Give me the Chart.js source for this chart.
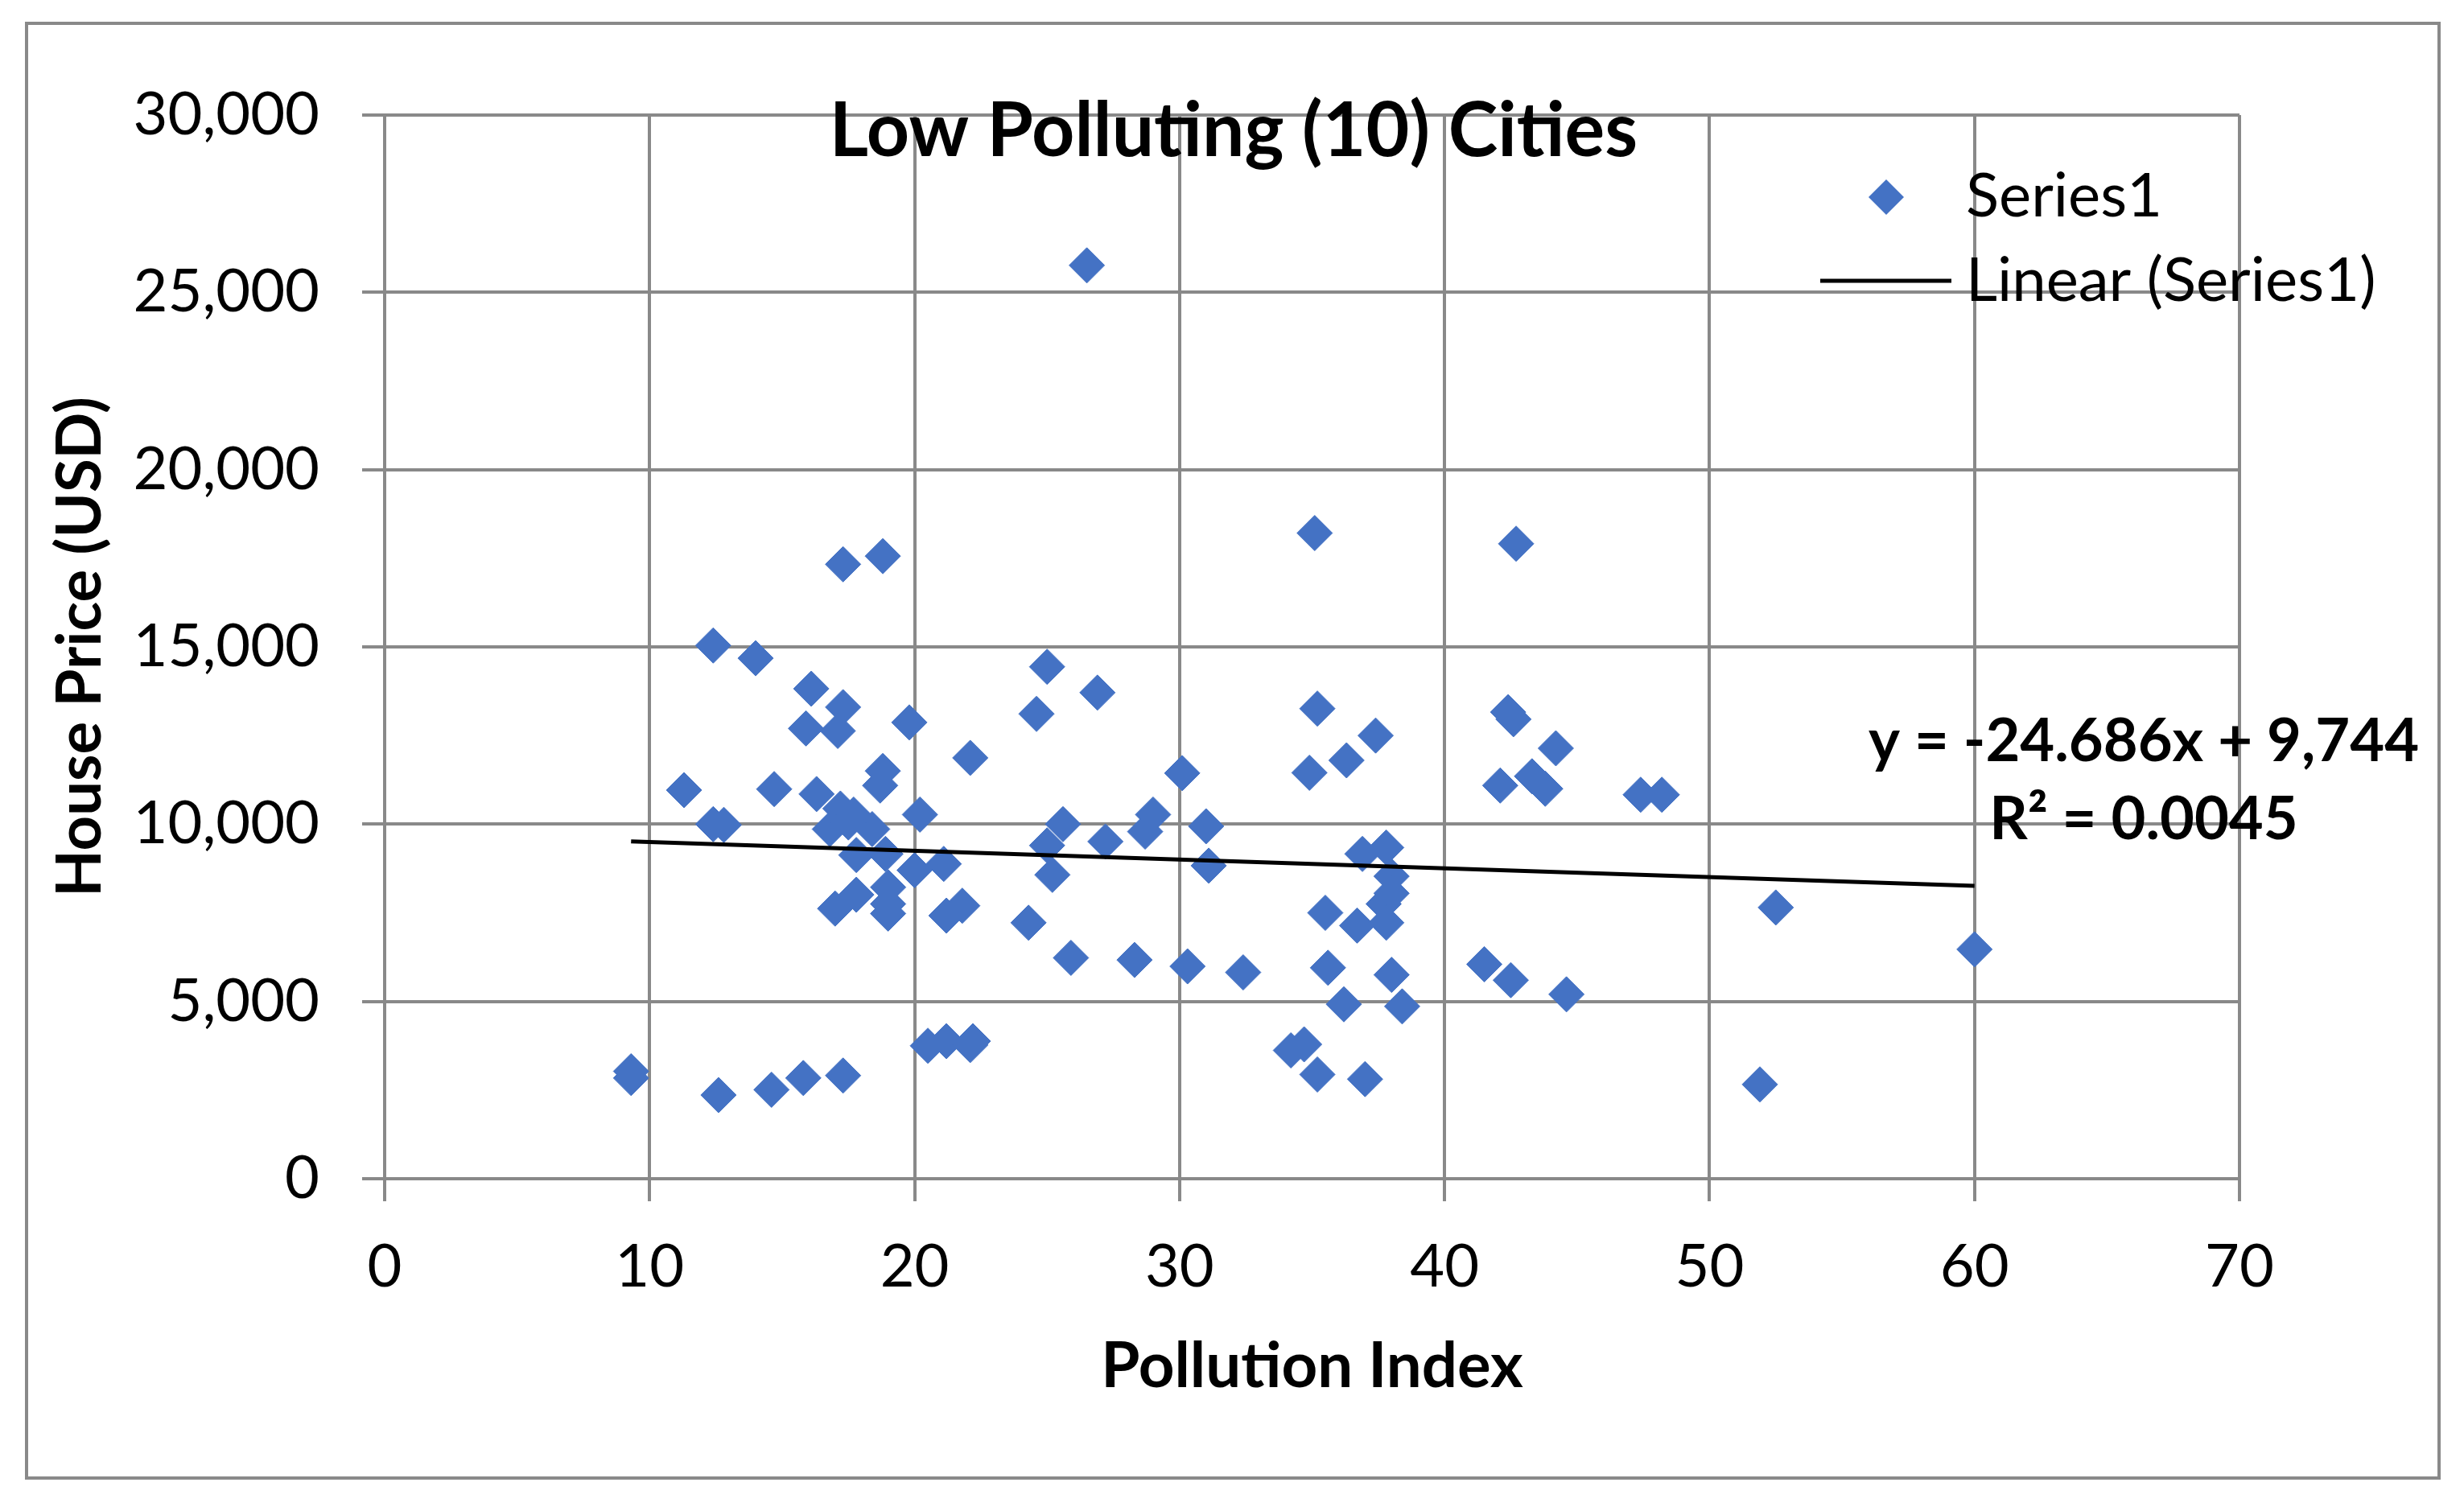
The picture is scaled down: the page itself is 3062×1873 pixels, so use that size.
<!DOCTYPE html>
<html>
<head>
<meta charset="utf-8">
<title>Low Polluting (10) Cities</title>
<script src="https://cdn.jsdelivr.net/npm/chart.js@4.4.1/dist/chart.umd.min.js"></script>
<style>
  html, body { margin: 0; padding: 0; background: #ffffff; }
</style>
</head>
<body>
<canvas id="chart" width="3062" height="1873"></canvas>
<script>
// Pollution index (x) and house price in USD (y), one entry per city
const pollutionIndex = [
  9.3, 9.3, 11.3, 12.4, 12.4, 12.8, 12.6, 14.0, 14.7, 14.6,
  16.1, 15.9, 16.3, 15.8, 17.3, 17.1, 17.3, 18.8, 17.2, 17.7,
  18.4, 16.8, 17.5, 17.8, 18.9, 20.0, 21.1, 19.0, 17.8, 17.0,
  19.0, 19.0, 21.2, 21.8, 17.3, 18.8, 18.7, 19.8, 20.2, 22.1,
  20.5, 21.2, 22.1, 22.2, 24.3, 24.6, 25.0, 25.0, 25.6, 25.2,
  25.9, 26.5, 26.9, 27.2, 28.3, 28.7, 29.0, 30.1, 30.3, 31.0,
  31.1, 32.4, 34.2, 34.7, 34.9, 35.1, 35.2, 35.2, 35.5, 35.6,
  36.3, 36.2, 36.7, 36.9, 37.0, 37.4, 37.8, 38.0, 38.0, 37.7,
  37.8, 38.0, 38.4, 41.5, 42.1, 42.4, 42.6, 42.5, 42.7, 43.3,
  43.8, 44.2, 44.6, 47.4, 48.2, 51.9, 52.5, 60.0
];
const housePrice = [
  3030, 2840, 10960, 15040, 10000, 9980, 2360, 14680, 10990, 2510,
  13820, 12700, 10850, 2840, 13300, 12630, 17330, 17560, 10440, 10270,
  9860, 9860, 10050, 9130, 9160, 8700, 8880, 8220, 8010, 7620,
  7750, 7480, 7420, 7700, 2910, 11500, 11090, 12870, 10270, 11870,
  3750, 3880, 3770, 3880, 7220, 13110, 14440, 9400, 10000, 8570,
  6230, 25760, 13710, 9510, 6170, 9790, 10270, 11440, 5990, 9940,
  8830, 5820, 3620, 3790, 11450, 18210, 13260, 2940, 7500, 5950,
  11800, 4920, 7140, 9160, 2810, 12500, 9340, 8530, 8050, 7750,
  7220, 5750, 4860, 6050, 11090, 13160, 12960, 5600, 17910, 11350,
  11000, 12140, 5200, 10830, 10830, 2660, 7650, 6470
];

// trendline as printed on the chart
const slope = -24.686;
const intercept = 9744;
const equationLines = ['y = -24.686x + 9,744', 'R\u00b2 = 0.0045'];

const chartTitle = 'Low Polluting (10) Cities';
const xTitle = 'Pollution Index';
const yTitle = 'House Price (USD)';
const legendLabels = ['Series1', 'Linear (Series1)'];

const blue = '#4472C4';
const gridColor = '#898989';
const fontFamily = 'Lato, "Open Sans", sans-serif';

const points = pollutionIndex.map((x, i) => ({ x: x, y: housePrice[i] }));
const xMin = Math.min(...pollutionIndex);
const xMax = Math.max(...pollutionIndex);
const trend = [
  { x: xMin, y: slope * xMin + intercept },
  { x: xMax, y: slope * xMax + intercept }
];

// white page, outer frame, title, legend and equation text
const decorations = {
  id: 'decorations',
  beforeDraw(chart) {
    const ctx = chart.ctx;
    ctx.save();
    ctx.fillStyle = '#ffffff';
    ctx.fillRect(0, 0, chart.width, chart.height);
    ctx.strokeStyle = gridColor;
    ctx.lineWidth = 4;
    ctx.strokeRect(33, 29, 2998, 1808);
    ctx.restore();
  },
  afterDraw(chart) {
    const ctx = chart.ctx;
    ctx.save();
    ctx.fillStyle = '#000000';
    ctx.textBaseline = 'middle';

    // title
    ctx.font = 'bold 93px ' + fontFamily;
    ctx.textAlign = 'center';
    ctx.fillText(chartTitle, 1533, 164);

    // legend
    ctx.fillStyle = blue;
    ctx.beginPath();
    ctx.moveTo(2344 - 22, 245);
    ctx.lineTo(2344, 245 - 22);
    ctx.lineTo(2344 + 22, 245);
    ctx.lineTo(2344, 245 + 22);
    ctx.closePath();
    ctx.fill();

    ctx.strokeStyle = '#000000';
    ctx.lineWidth = 5;
    ctx.beginPath();
    ctx.moveTo(2262, 349);
    ctx.lineTo(2425, 349);
    ctx.stroke();

    ctx.fillStyle = '#000000';
    ctx.font = '76px ' + fontFamily;
    ctx.textAlign = 'left';
    ctx.fillText(legendLabels[0], 2443, 244);
    ctx.fillText(legendLabels[1], 2443, 349);

    // trendline equation
    ctx.font = 'bold 74px ' + fontFamily;
    ctx.textAlign = 'center';
    ctx.fillText(equationLines[0], 2664, 922);
    ctx.fillText(equationLines[1], 2664, 1019);
    ctx.restore();
  }
};

Chart.defaults.font.family = fontFamily;
Chart.defaults.color = '#000000';

new Chart(document.getElementById('chart'), {
  type: 'scatter',
  data: {
    datasets: [
      {
        label: legendLabels[1],
        type: 'line',
        data: trend,
        borderColor: '#000000',
        borderWidth: 5,
        pointRadius: 0,
        fill: false,
        order: 0
      },
      {
        label: legendLabels[0],
        data: points,
        pointStyle: 'rectRot',
        pointRadius: 22,
        pointBackgroundColor: blue,
        pointBorderColor: blue,
        pointBorderWidth: 1,
        order: 1
      }
    ]
  },
  options: {
    responsive: false,
    animation: false,
    layout: { padding: { left: 0, top: 143, right: 279, bottom: 0 } },
    plugins: {
      legend: { display: false },
      tooltip: { enabled: false },
      title: { display: false }
    },
    scales: {
      x: {
        type: 'linear',
        min: 0,
        max: 70,
        afterFit(scale) { scale.height = 408; },
        ticks: {
          stepSize: 10,
          padding: 38,
          font: { size: 74 },
          color: '#000000'
        },
        grid: {
          color: gridColor,
          lineWidth: 4,
          tickLength: 28,
          tickColor: gridColor,
          tickWidth: 4
        },
        border: { display: true, color: gridColor, width: 4 },
        title: {
          display: true,
          text: xTitle,
          font: { size: 78, weight: 'bold' },
          color: '#000000',
          padding: { top: 0, bottom: 127 }
        }
      },
      y: {
        type: 'linear',
        min: 0,
        max: 30000,
        afterFit(scale) { scale.width = 478; },
        ticks: {
          stepSize: 5000,
          padding: 53,
          font: { size: 74 },
          color: '#000000',
          callback: v => v.toLocaleString('en-US')
        },
        grid: {
          color: gridColor,
          lineWidth: 4,
          tickLength: 28,
          tickColor: gridColor,
          tickWidth: 4
        },
        border: { display: true, color: gridColor, width: 4 },
        title: {
          display: true,
          text: yTitle,
          font: { size: 76, weight: 'bold' },
          color: '#000000',
          padding: { top: 55, bottom: 0 }
        }
      }
    }
  },
  plugins: [decorations]
});
</script>
</body>
</html>
